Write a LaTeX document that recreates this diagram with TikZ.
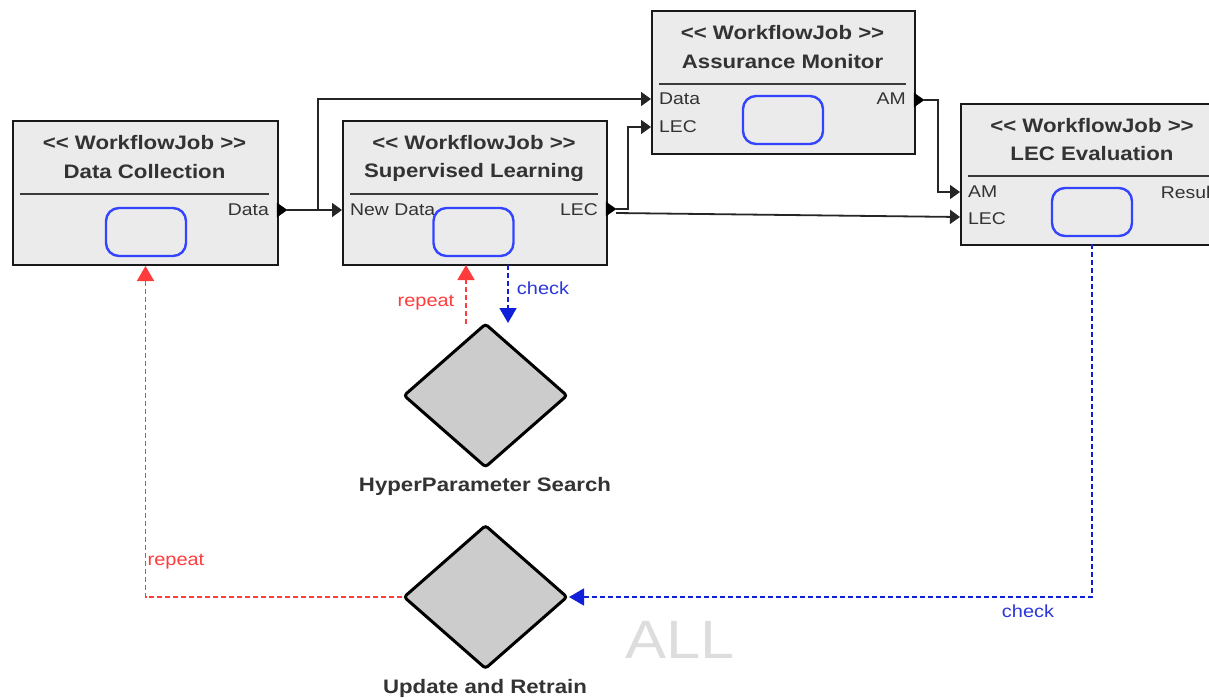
\documentclass[tikz,border=0pt]{standalone}
\usepackage{fontspec}
\usepackage{graphicx}
\setmainfont{Liberation Sans}
\usetikzlibrary{arrows.meta,shapes.geometric}

\definecolor{boxgray}{HTML}{EBEBEB}
\definecolor{txtgray}{HTML}{333333}
\definecolor{sepgray}{HTML}{3A3A3A}
\definecolor{slotblue}{HTML}{3344FF}
\definecolor{diagray}{HTML}{CCCCCC}
\definecolor{repred}{HTML}{FF3B3B}
\definecolor{chkblue}{HTML}{1020D8}
\definecolor{chktxt}{HTML}{2A36D8}
\definecolor{wmgray}{HTML}{DDDDDD}

% text is set slightly wide
\newcommand{\hs}[1]{\scalebox{1.14}[1]{#1}}
\newcommand{\wfj}{\hs{<\kern0pt< WorkflowJob >\kern0pt>}}

\tikzset{
  jobbox/.style={draw=black!90, line width=2pt, fill=boxgray, inner sep=0pt, anchor=north west},
  sepline/.style={draw=sepgray, line width=2pt},
  title/.style={text=txtgray, inner sep=0pt, font=\fontsize{19.5}{22}\selectfont\bfseries},
  port/.style={text=txtgray, inner sep=0pt, font=\fontsize{17}{20}\selectfont},
  slot/.style={draw=slotblue, line width=2.4pt, rounded corners=13pt, minimum width=80pt, minimum height=48pt, inner sep=0pt},
  porttip/.style={fill=black},
  wire/.style={line width=1.8pt, draw=black!85},
  conn/.style={wire, -{Triangle[length=10pt,width=14pt]}},
  dia/.style={diamond, draw=black, line width=3pt, fill=diagray, minimum width=164pt, minimum height=144pt, inner sep=0pt, rounded corners=3pt},
  dlabel/.style={text=txtgray, inner sep=0pt, font=\fontsize{19.5}{22}\selectfont\bfseries},
  repline/.style={draw=repred, line width=1.6pt, dash pattern=on 5pt off 3pt, -{Triangle[length=15pt,width=17pt]}},
  chkline/.style={draw=chkblue, line width=1.6pt, dash pattern=on 5pt off 3pt, -{Triangle[length=15pt,width=17pt]}},
  reptxt/.style={text=repred, inner sep=0pt, font=\fontsize{17.5}{20}\selectfont},
  chktxt/.style={text=chktxt, inner sep=0pt, font=\fontsize{17.5}{20}\selectfont},
}

\begin{document}
\begin{tikzpicture}[x=1pt, y=-1pt]
\useasboundingbox (0,0) rectangle (1209,697);
\clip (0,0) rectangle (1209,697);

% ---- Data Collection ----
\node[jobbox, minimum width=265pt, minimum height=144pt] (dc) at (12,120) {};
\node[title] (dct1) at (144.5,143) {\wfj};
\node[title] (dct2) at (144.5,172) {\hs{Data Collection}};
\draw[sepline] (20,194) -- (269,194);
\node[port, anchor=east] (dcpd) at (269,210) {\hs{Data}};
\node[slot] (dcslot) at (146,232) {};
\draw[porttip] (277,203) -- (287,210) -- (277,217) -- cycle;
\coordinate (dcout) at (287,210);

% ---- Supervised Learning ----
\node[jobbox, minimum width=264pt, minimum height=144pt] (sl) at (342,120) {};
\node[title] (slt1) at (474,143) {\wfj};
\node[title] (slt2) at (474,172) {\hs{Supervised Learning}};
\draw[sepline] (350,194) -- (598,194);
\node[port, anchor=west] (slpin) at (350,210) {\hs{New Data}};
\node[port, anchor=east] (slpout) at (598,210) {\hs{LEC}};
\node[slot] (slslot) at (473.5,232) {};
\draw[porttip] (606,202) -- (616,209) -- (606,216) -- cycle;
\coordinate (slin) at (342,210);
\coordinate (slout) at (616,209);
\coordinate (slfan) at (616,213);
\coordinate (slrep) at (466,265);
\coordinate (slchk) at (508,265);

% ---- Assurance Monitor ----
\node[jobbox, minimum width=263pt, minimum height=143pt] (am) at (651,10) {};
\node[title] (amt1) at (782.5,33) {\wfj};
\node[title] (amt2) at (782.5,62) {\hs{Assurance Monitor}};
\draw[sepline] (659,84) -- (906,84);
\node[port, anchor=west] (ampd) at (659,99) {\hs{Data}};
\node[port, anchor=west] (ampl) at (659,127) {\hs{LEC}};
\node[port, anchor=east] (ampo) at (906,99) {\hs{AM}};
\node[slot] (amslot) at (783,120) {};
\draw[porttip] (914,93) -- (924,100) -- (914,107) -- cycle;
\coordinate (amdata) at (651,99);
\coordinate (amlec) at (651,127);
\coordinate (amout) at (924,100);

% ---- LEC Evaluation ----
\node[jobbox, minimum width=264pt, minimum height=141pt] (le) at (960,103) {};
\node[title] (let1) at (1092,126) {\wfj};
\node[title] (let2) at (1092,154) {\hs{LEC Evaluation}};
\draw[sepline] (968,176) -- (1216,176);
\node[port, anchor=west] (lepa) at (968,192) {\hs{AM}};
\node[port, anchor=west] (lepl) at (968,219) {\hs{LEC}};
\node[port, anchor=east] (lepr) at (1216,192) {\hs{Result}};
\node[slot] (leslot) at (1092,212) {};
\coordinate (leam) at (960,192);
\coordinate (lelec) at (960,217);
\coordinate (lechk) at (1092,244);

% ---- decisions ----
\node[dia] (hp) at (485.5,395.5) {};
\node[dlabel] (hpl) at (485,486) {\hs{HyperParameter Search}};
\node[dia] (ur) at (485.5,597) {};
\node[dlabel] (url) at (485,688) {\hs{Update and Retrain}};
\coordinate (hprep) at (466,324);
\coordinate (hpchk) at (508,323);

% ---- data flow ----
\coordinate (split) at (318,210);
\draw[conn] (dcout) -- (slin);
\draw[conn] (split) |- (amdata);
\draw[conn] (slout) -- ++(12,0) |- (amlec);
\draw[conn] (slfan) -- (lelec);
\draw[conn] (amout) -- ++(14,0) |- (leam);

% ---- control flow ----
\draw[repline] (hprep) -- (slrep);
\node[reptxt] (rep1) at (426,303) {\hs{repeat}};
\draw[chkline] (slchk) -- (hpchk);
\node[chktxt] (chk1) at (543,288) {\hs{check}};
\draw[chkline] (lechk) |- (ur.east);
\node[chktxt] (chk2) at (1028,611) {\hs{check}};
\draw[repline] (ur.west) -| (dc.south);
\node[reptxt] (rep2) at (176,562) {\hs{repeat}};

% ---- watermark ----
\node[text=wmgray, inner sep=0pt, font=\fontsize{54}{60}\selectfont] (wm) at (680,640) {\hs{ALL}};
\end{tikzpicture}
\end{document}
